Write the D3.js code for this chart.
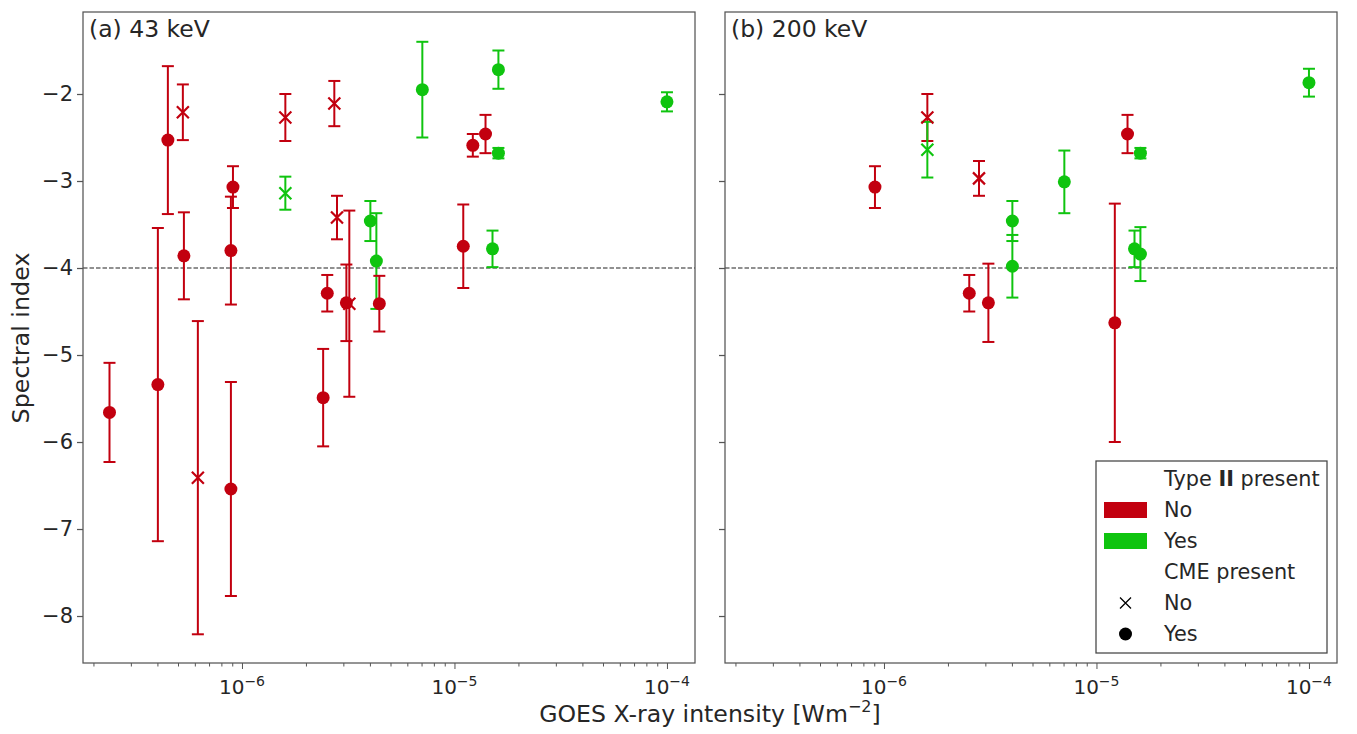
<!DOCTYPE html>
<html>
<head>
<meta charset="utf-8">
<script src="https://cdn.jsdelivr.net/npm/d3@7"></script>
<style>
  body { margin: 0; background: #fff; }
  text { font-family: "DejaVu Sans", sans-serif; fill: #262626; }
</style>
</head>
<body>
<svg id="chart" width="1357" height="734"></svg>
<script>
// GOES flux, spectral index, error, type II present (1 = yes), CME present (1 = yes)
var fluxA  = [4.48e-7, 5.27e-7, 1.6e-6, 2.72e-6, 9.07e-7, 1.6e-6, 8.87e-7, 5.33e-7, 2.8e-6, 4.02e-6,
              4.29e-6, 2.52e-6, 3.1e-6, 3.2e-6, 4.43e-6, 2.38e-7, 4.02e-7, 6.2e-7, 8.87e-7, 2.41e-6,
              7.06e-6, 1.61e-5, 1.0e-4, 1.22e-5, 1.4e-5, 1.61e-5, 1.1e-5, 1.51e-5];
var indexA = [-2.53, -2.21, -2.27, -2.11, -3.07, -3.14, -3.80, -3.86, -3.42, -3.46,
              -3.92, -4.29, -4.40, -4.41, -4.41, -5.66, -5.34, -6.41, -6.54, -5.49,
              -1.95, -1.72, -2.09, -2.59, -2.46, -2.68, -3.75, -3.78];
var errA   = [0.85, 0.32, 0.27, 0.26, 0.24, 0.19, 0.62, 0.50, 0.25, 0.23,
              0.55, 0.21, 0.44, 1.07, 0.32, 0.57, 1.80, 1.80, 1.23, 0.56,
              0.55, 0.22, 0.11, 0.13, 0.22, 0.06, 0.48, 0.21];
var typeA  = [0, 0, 0, 0, 0, 1, 0, 0, 0, 1,
              1, 0, 0, 0, 0, 0, 0, 0, 0, 0,
              1, 1, 1, 0, 0, 1, 0, 1];
var cmeA   = [1, 0, 0, 0, 1, 0, 1, 1, 0, 1,
              1, 1, 1, 0, 1, 1, 1, 0, 1, 1,
              1, 1, 1, 1, 1, 1, 1, 1];

var fluxB  = [9.07e-7, 1.6e-6, 1.6e-6, 2.8e-6, 4.02e-6, 4.02e-6, 2.52e-6, 3.1e-6, 7.06e-6, 1.4e-5,
              1.61e-5, 1.0e-4, 1.22e-5, 1.51e-5, 1.61e-5];
var indexB = [-3.07, -2.27, -2.64, -2.97, -3.46, -3.98, -4.29, -4.40, -3.01, -2.46,
              -2.68, -1.87, -4.63, -3.78, -3.84];
var errB   = [0.24, 0.27, 0.32, 0.20, 0.23, 0.36, 0.21, 0.45, 0.36, 0.22,
              0.06, 0.16, 1.37, 0.21, 0.31];
var typeB  = [0, 0, 1, 0, 1, 1, 0, 0, 1, 0,
              1, 1, 0, 1, 1];
var cmeB   = [1, 0, 0, 0, 1, 1, 1, 1, 1, 1,
              1, 1, 1, 1, 1];

var panelTitles = ["(a) 43 keV", "(b) 200 keV"];
var yTicks = [-2, -3, -4, -5, -6, -7, -8];
var xTicks = [1e-6, 1e-5, 1e-4];
var legendTypeLabels = ["No", "Yes"];
var legendCmeLabels = ["No", "Yes"];

var colors = ["#c2000f", "#0fc40f"];

var svg = d3.select("#chart");
var plotTop = 12, plotBottom = 663, pw = 612;
var panelX = [83, 725];

var y = d3.scaleLinear().domain([-8.54, -1.0575]).range([plotBottom, plotTop]);

function toRows(f, v, e, t, c) {
    return f.map(function(d, i) {
        return { x: d, y: v[i], err: e[i], type: t[i], cme: c[i] };
    });
}
var panels = [toRows(fluxA, indexA, errA, typeA, cmeA), toRows(fluxB, indexB, errB, typeB, cmeB)];

var minus = function(n) { return String(n).replace("-", "\u2212"); };

panels.forEach(function(rows, p) {
    var x0 = panelX[p];
    var x = d3.scaleLog().domain([1.786e-7, 1.355e-4]).range([x0, x0 + pw]);
    var g = svg.append("g");

    // threshold line at -4
    g.append("line")
        .attr("x1", x0).attr("x2", x0 + pw)
        .attr("y1", y(-4)).attr("y2", y(-4))
        .attr("stroke", "#222").attr("stroke-width", 1.2)
        .attr("stroke-dasharray", "4.5,2");

    // error bars
    var eb = g.selectAll(".eb").data(rows).enter().append("g")
        .attr("stroke", function(d) { return colors[d.type]; })
        .attr("stroke-width", 2);
    eb.append("line")
        .attr("x1", function(d) { return x(d.x); })
        .attr("x2", function(d) { return x(d.x); })
        .attr("y1", function(d) { return y(d.y + d.err); })
        .attr("y2", function(d) { return y(d.y - d.err); });
    [1, -1].forEach(function(s) {
        eb.append("line")
            .attr("x1", function(d) { return x(d.x) - 6; })
            .attr("x2", function(d) { return x(d.x) + 6; })
            .attr("y1", function(d) { return y(d.y + s * d.err); })
            .attr("y2", function(d) { return y(d.y + s * d.err); });
    });

    // markers
    g.selectAll(".dot").data(rows.filter(function(d) { return d.cme; })).enter()
        .append("circle")
        .attr("cx", function(d) { return x(d.x); })
        .attr("cy", function(d) { return y(d.y); })
        .attr("r", 6.5)
        .attr("fill", function(d) { return colors[d.type]; });

    g.selectAll(".cross").data(rows.filter(function(d) { return !d.cme; })).enter()
        .append("path")
        .attr("d", function(d) {
            var cx = x(d.x), cy = y(d.y), s = 6;
            return "M" + (cx - s) + "," + (cy - s) + "L" + (cx + s) + "," + (cy + s) +
                   "M" + (cx - s) + "," + (cy + s) + "L" + (cx + s) + "," + (cy - s);
        })
        .attr("stroke", function(d) { return colors[d.type]; })
        .attr("stroke-width", 2.2)
        .attr("fill", "none");

    // frame
    g.append("rect")
        .attr("x", x0).attr("y", plotTop).attr("width", pw).attr("height", plotBottom - plotTop)
        .attr("fill", "none").attr("stroke", "#555").attr("stroke-width", 1.25);

    // x axis: major + minor ticks
    var minor = [];
    for (var e = -7; e <= -4; e++) {
        for (var m = 2; m <= 9; m++) {
            var v = m * Math.pow(10, e);
            if (v > 1.786e-7 && v < 1.355e-4) minor.push(v);
        }
    }
    var xa = g.append("g").attr("transform", "translate(0," + plotBottom + ")");
    xa.call(d3.axisBottom(x).tickValues(minor).tickSize(3.5).tickFormat(""));
    var xb = g.append("g").attr("transform", "translate(0," + plotBottom + ")");
    xb.call(d3.axisBottom(x).tickValues(xTicks).tickSize(6).tickFormat(""));
    xa.select(".domain").remove();
    xb.select(".domain").remove();
    g.selectAll(".tick line").attr("stroke", "#555").attr("stroke-width", 1);

    var xl = g.selectAll(".xl").data(xTicks).enter().append("text")
        .attr("x", function(d) { return x(d); })
        .attr("y", plotBottom + 31)
        .attr("text-anchor", "middle")
        .style("font-size", "20px");
    xl.append("tspan").text("10");
    xl.append("tspan").attr("dy", -8).style("font-size", "14px")
        .text(function(d) { return minus(Math.round(Math.log10(d))); });

    // y axis
    var ya = g.append("g").attr("transform", "translate(" + x0 + ",0)");
    ya.call(d3.axisLeft(y).tickValues(yTicks).tickSize(6)
        .tickFormat(p === 0 ? function(d) { return minus(d); } : ""));
    ya.select(".domain").remove();
    ya.selectAll("line").attr("stroke", "#555").attr("stroke-width", 1.25);
    ya.selectAll("text").attr("x", -10).style("font-size", "21px")
        .style("font-family", "DejaVu Sans, sans-serif").attr("fill", "#262626");

    g.append("text")
        .attr("x", x0 + 6).attr("y", plotTop + 25)
        .style("font-size", "23.5px")
        .text(panelTitles[p]);
});

// axis labels
svg.append("text")
    .attr("transform", "translate(29,338) rotate(-90)")
    .attr("text-anchor", "middle")
    .style("font-size", "23.8px")
    .text("Spectral index");

var xt = svg.append("text")
    .attr("x", 710).attr("y", 722)
    .attr("text-anchor", "middle")
    .style("font-size", "23.6px");
xt.append("tspan").text("GOES X-ray intensity [Wm");
xt.append("tspan").attr("dy", -10).style("font-size", "16px").text("\u22122");
xt.append("tspan").attr("dy", 10).text("]");

// legend
var lg = svg.append("g").attr("transform", "translate(1096,461)");
lg.append("rect").attr("width", 231).attr("height", 192)
    .attr("fill", "#fff").attr("stroke", "#444").attr("stroke-width", 1.25);

var rowY = [18, 49, 80, 111, 142, 173];
var tt = lg.append("text").attr("x", 68).attr("y", rowY[0] + 7).style("font-size", "20.8px");
tt.append("tspan").text("Type ");
tt.append("tspan").style("font-weight", "bold").text("II");
tt.append("tspan").text(" present");

legendTypeLabels.forEach(function(t, i) {
    lg.append("rect").attr("x", 8).attr("y", rowY[i + 1] - 8).attr("width", 43).attr("height", 16)
        .attr("fill", colors[i]);
    lg.append("text").attr("x", 68).attr("y", rowY[i + 1] + 7).style("font-size", "20.8px").text(t);
});

lg.append("text").attr("x", 68).attr("y", rowY[3] + 7).style("font-size", "20.8px").text("CME present");

legendCmeLabels.forEach(function(t, i) {
    var cy = rowY[i + 4];
    if (i === 0) {
        lg.append("path")
            .attr("d", "M24," + (cy - 5.5) + "L35," + (cy + 5.5) + "M24," + (cy + 5.5) + "L35," + (cy - 5.5))
            .attr("stroke", "#000").attr("stroke-width", 1.3);
    } else {
        lg.append("circle").attr("cx", 29.5).attr("cy", cy).attr("r", 6.5).attr("fill", "#000");
    }
    lg.append("text").attr("x", 68).attr("y", cy + 7).style("font-size", "20.8px").text(t);
});
</script>
</body>
</html>
